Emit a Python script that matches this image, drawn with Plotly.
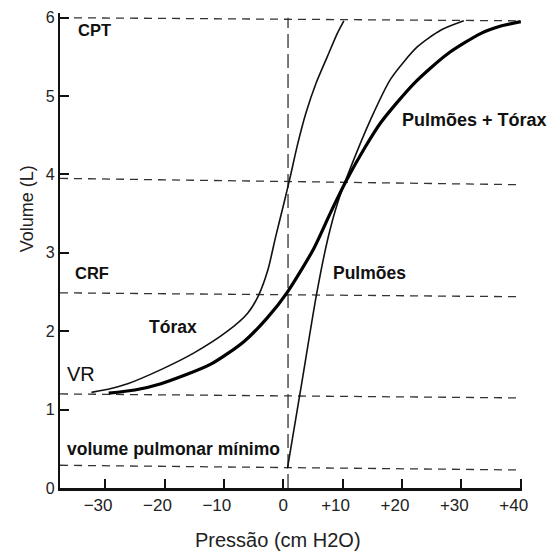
import plotly.graph_objects as go

# ---- data ----
torax_x = [-32.3, -29.0, -26.2, -20.6, -15.1, -9.4, -6.0, -4.2, -2.6, -1.3, 0.1, 1.2, 2.4, 3.8, 5.5, 7.4, 9.1, 10.2]
torax_y = [1.22, 1.27, 1.33, 1.51, 1.72, 2.0, 2.23, 2.45, 2.78, 3.2, 3.63, 3.98, 4.38, 4.78, 5.16, 5.5, 5.8, 5.96]

pulm_x = [0.7, 3.2, 5.6, 7.5, 9.2, 11.4, 14.7, 18.1, 22.6, 26.5, 30.4]
pulm_y = [0.25, 1.38, 2.47, 3.18, 3.65, 4.1, 4.7, 5.22, 5.63, 5.84, 5.96]

total_x = [-29.4, -25.0, -20.6, -12.2, -6.6, -2.7, 0.7, 5.1, 8.0, 10.6, 13.8, 16.4, 22.0, 27.7, 33.3, 36.5, 40.0]
total_y = [1.21, 1.25, 1.33, 1.58, 1.87, 2.17, 2.5, 3.05, 3.52, 3.92, 4.35, 4.66, 5.16, 5.54, 5.8, 5.89, 5.95]

# reference (dashed) levels: left end / right end as read
ref_x0 = [-37.6, -37.6, -37.6, -37.6, -37.6]
ref_x1 = [40.0, 39.2, 40.0, 39.2, 40.0]
ref_yl = [6.0, 3.95, 2.49, 1.2, 0.29]
ref_yr = [5.96, 3.87, 2.44, 1.15, 0.23]
zero_x = 0.8

tick_vals = [-30, -20, -10, 0, 10, 20, 30, 40]
tick_main = ["\u221230", "\u221220", "\u221210", "0", "+10", "+20", "+30", "+40"]
tick_pad = ["m", "m", "m", "", "m", "m", "m", "m"]
ytick_vals = [0, 1, 2, 3, 4, 5, 6]

labels = ["CPT", "CRF", "T\u00f3rax", "VR", "volume pulmonar m\u00ednimo", "Pulm\u00f5es", "Pulm\u00f5es + T\u00f3rax"]
label_x = [-34.9, -35.4, -23.0, -36.8, -36.8, 8.0, 19.6]
label_y = [5.84, 2.74, 2.05, 1.45, 0.5, 2.74, 4.7]
label_size = [16.5, 16.5, 17.5, 20, 17.5, 17.5, 18]
label_bold = [True, True, True, False, True, True, True]

FONT = "Liberation Sans, Arial, sans-serif"

tick_text = [m + (f"<span style='color:rgba(0,0,0,0)'>{p}</span>" if p else "")
             for m, p in zip(tick_main, tick_pad)]

fig = go.Figure()

for x0, x1, yl, yr in zip(ref_x0, ref_x1, ref_yl, ref_yr):
    fig.add_trace(go.Scatter(x=[x0, x1], y=[yl, yr], mode="lines",
                             line=dict(color="#333", width=1.3, dash="8px,6px"),
                             hoverinfo="skip", showlegend=False))

fig.add_trace(go.Scatter(x=[zero_x, zero_x], y=[0, 6.0], mode="lines",
                         line=dict(color="#333", width=1.3, dash="14px,6px"),
                         hoverinfo="skip", showlegend=False))

fig.add_trace(go.Scatter(x=torax_x, y=torax_y, mode="lines",
                         line=dict(color="#111", width=1.6, shape="spline", smoothing=0.7),
                         showlegend=False))
fig.add_trace(go.Scatter(x=pulm_x, y=pulm_y, mode="lines",
                         line=dict(color="#111", width=1.6, shape="spline", smoothing=0.7),
                         showlegend=False))
fig.add_trace(go.Scatter(x=total_x, y=total_y, mode="lines",
                         line=dict(color="#000", width=3.2, shape="spline", smoothing=0.7),
                         showlegend=False))

for t, x, y, s, b in zip(labels, label_x, label_y, label_size, label_bold):
    txt = "<b>" + t + "</b>" if b else t
    fig.add_annotation(x=x, y=y, text=txt, showarrow=False, xanchor="left", yanchor="middle",
                       font=dict(family=FONT, size=s, color="#111"))

fig.add_annotation(x=-0.9, xref="x", y=-0.11, yref="paper", text="Press\u00e3o (cm H2O)",
                   showarrow=False, xanchor="center", yanchor="middle",
                   font=dict(family=FONT, size=20, color="#222"))
fig.add_annotation(x=-0.071, xref="paper", y=0.587, yref="paper", text="Volume (L)",
                   showarrow=False, textangle=-90, xanchor="center", yanchor="middle",
                   font=dict(family=FONT, size=18, color="#222"))

fig.update_layout(
    width=552, height=554,
    margin=dict(l=60, r=30, t=9, b=66),
    paper_bgcolor="white", plot_bgcolor="white",
    xaxis=dict(range=[-37.6, 40.2], showgrid=False, zeroline=False,
               showline=True, linecolor="#111", linewidth=2.6,
               ticks="inside", ticklen=9, tickwidth=1.6, tickcolor="#111",
               tickvals=tick_vals, ticktext=tick_text,
               tickfont=dict(family=FONT, size=17, color="#222")),
    yaxis=dict(range=[0, 6.06], showgrid=False, zeroline=False,
               showline=True, linecolor="#111", linewidth=2.2,
               ticks="inside", ticklen=9, tickwidth=1.6, tickcolor="#111",
               tickvals=ytick_vals,
               tickfont=dict(family=FONT, size=16, color="#222")),
    font=dict(family=FONT),
)

# remove the default 8px page margin so the 552x554 figure fills the window
fig.write_html("out.html", config={"displayModeBar": False},
               post_script="document.body.style.margin='0';")
